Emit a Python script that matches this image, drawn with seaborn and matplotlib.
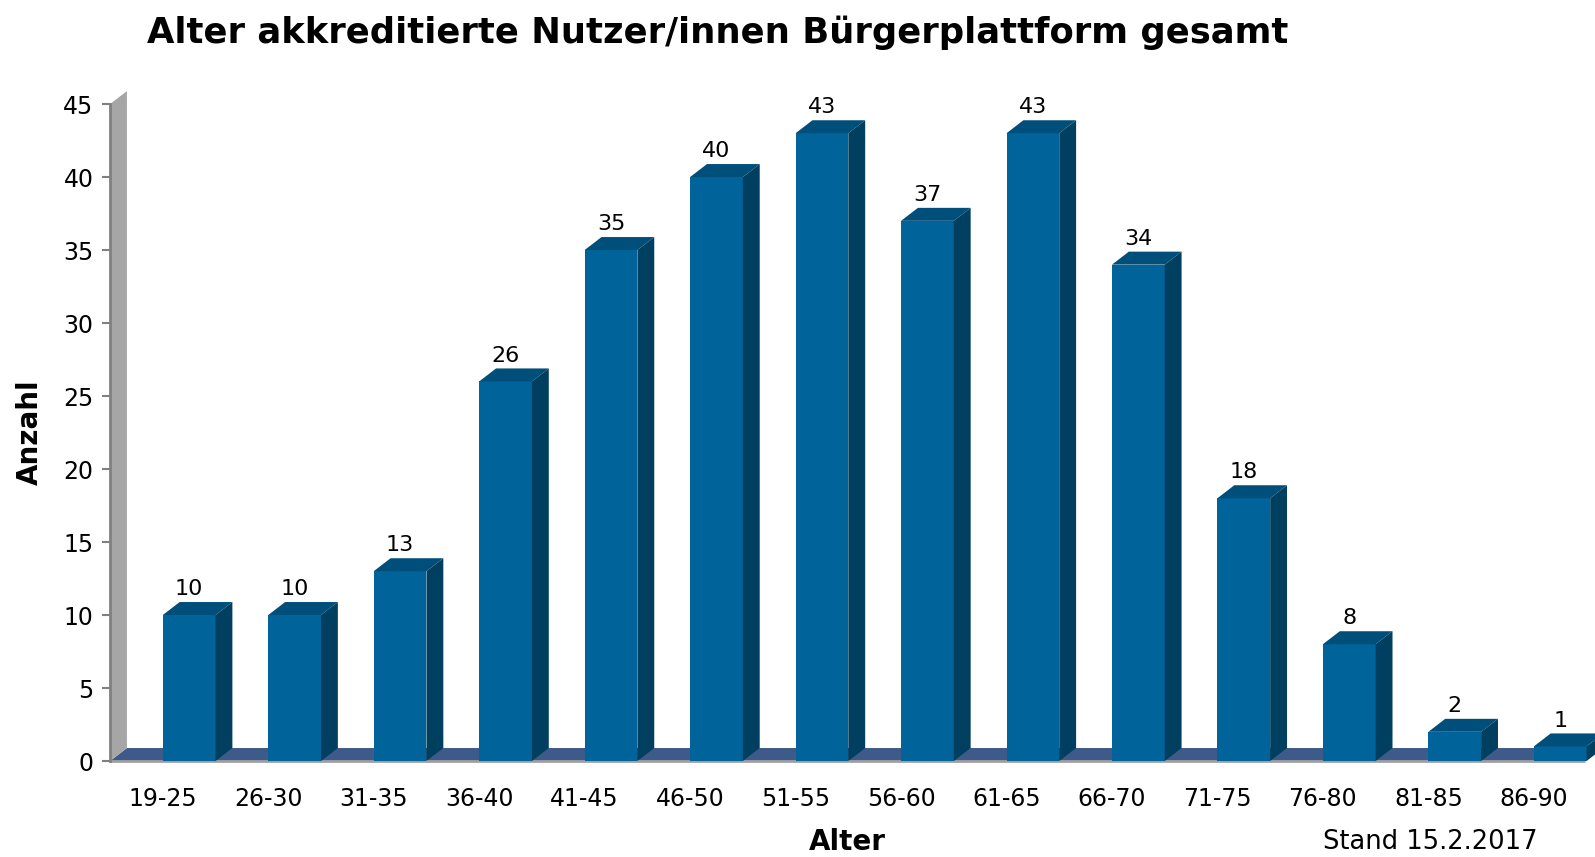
import matplotlib
matplotlib.use("Agg")
import matplotlib.pyplot as plt
import seaborn as sns
import numpy as np
from matplotlib.patches import Polygon

alter = ["19-25", "26-30", "31-35", "36-40", "41-45", "46-50", "51-55",
         "56-60", "61-65", "66-70", "71-75", "76-80", "81-85", "86-90"]
anzahl = [10, 10, 13, 26, 35, 40, 43, 37, 43, 34, 18, 8, 2, 1]
y_ticks = [0, 5, 10, 15, 20, 25, 30, 35, 40, 45]

FRONT = "#00649a"
TOP = "#004f7a"
SIDE = "#003f5f"
FLOOR = "#3e5a8a"
WALL = "#a6a6a6"

# depth offset of the fake 3d look, in data units
DX = 0.16
DY = 0.89

sns.set_style("white")
plt.rcParams["font.family"] = ["DejaVu Sans"]
plt.rcParams["text.color"] = "black"
plt.rcParams["xtick.color"] = "black"
plt.rcParams["ytick.color"] = "black"

fig = plt.figure(figsize=(15.95, 8.57), dpi=100)
ax = fig.add_axes([0.069, 0.112, 0.931, 0.7666])

sns.barplot(x=alter, y=anzahl, color=FRONT, saturation=1, width=0.5, ax=ax,
            zorder=3, linewidth=0, edgecolor=FRONT)

ax.set_xlim(-0.75, 13.33)
ax.set_ylim(0, 45)

# floor and left wall
x_left, x_right = -0.75, 13.23
ax.add_patch(Polygon([(x_left, 0), (x_right, 0), (x_right + DX, DY), (x_left + DX, DY)],
                     closed=True, facecolor=FLOOR, edgecolor="none",
                     zorder=1, clip_on=False))
ax.plot([x_left, x_right], [0, 0], color="#a0a0a0", lw=2, zorder=2, clip_on=False)
ax.add_patch(Polygon([(x_left, 0), (x_left + DX, DY), (x_left + DX, 45 + DY), (x_left, 45)],
                     closed=True, facecolor=WALL, edgecolor="none", zorder=1, clip_on=False))

# top and side faces of the bars
for p, v in zip(ax.patches[:len(anzahl)], anzahl):
    x0 = p.get_x()
    w = p.get_width()
    h = p.get_height()
    ax.add_patch(Polygon([(x0, h), (x0 + w, h), (x0 + w + DX, h + DY), (x0 + DX, h + DY)],
                         closed=True, facecolor=TOP, edgecolor="none", zorder=3, clip_on=False))
    ax.add_patch(Polygon([(x0 + w, 0), (x0 + w + DX, DY), (x0 + w + DX, h + DY), (x0 + w, h)],
                         closed=True, facecolor=SIDE, edgecolor="none", zorder=3, clip_on=False))
    ax.annotate(str(v), (x0 + w / 2, h + DY), xytext=(0, 2), textcoords="offset points",
                ha="center", va="bottom", fontsize=16, color="black")

ax.set_xticks(np.arange(len(alter)) - 0.25, alter)
ax.set_yticks(y_ticks)
ax.tick_params(axis="x", length=0, labelsize=17, pad=19)
ax.tick_params(axis="y", direction="out", length=6, width=1.5, color="#808080",
               labelcolor="black", labelsize=17, pad=6, left=True)

for s in ["top", "right", "bottom"]:
    ax.spines[s].set_visible(False)
ax.spines["left"].set_color("#808080")
ax.spines["left"].set_linewidth(2)

ax.set_xlabel("")
ax.set_ylabel("")
fig.text(0.019, 0.496, "Anzahl", rotation=90, fontsize=20, fontweight="bold",
         ha="center", va="center")
fig.text(0.531, 0.018, "Alter", fontsize=20, fontweight="bold", ha="center", va="center")
fig.text(0.897, 0.017, "Stand 15.2.2017", fontsize=18.5, ha="center", va="center")
fig.text(0.45, 0.962, "Alter akkreditierte Nutzer/innen Bürgerplattform gesamt",
         fontsize=25.5, fontweight="bold", ha="center", va="center")

fig.savefig("out.png", dpi=100)
